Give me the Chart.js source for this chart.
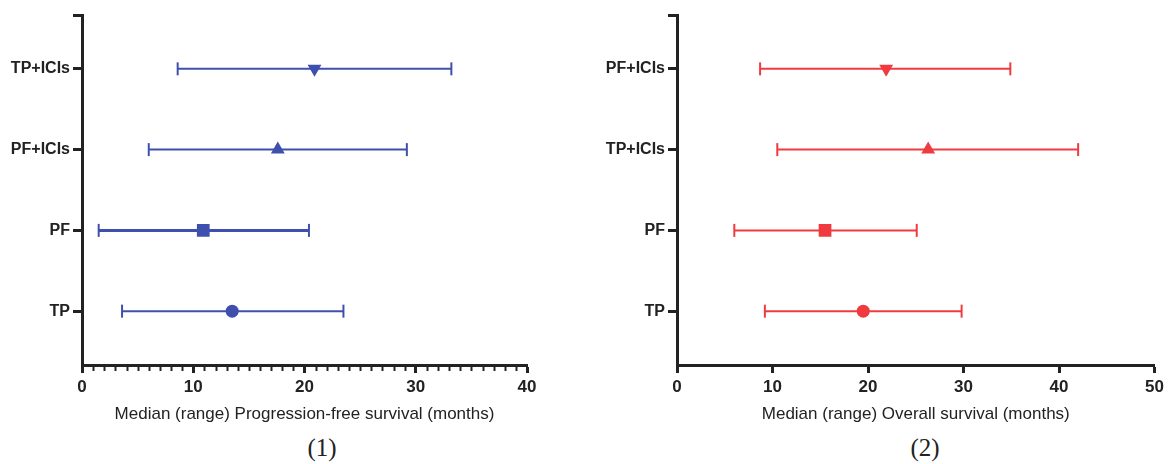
<!DOCTYPE html>
<html>
<head>
<meta charset="utf-8">
<script src="https://cdn.jsdelivr.net/npm/chart.js@4/dist/chart.umd.min.js"></script>
<style>
  body { margin: 0; background: #fff; }
  .wrap { position: relative; width: 1168px; height: 464px; }
  #pfsChart { position: absolute; left: 0; top: 0; }
  #osChart { position: absolute; left: 580px; top: 0; }
  .cap { position: absolute; top: 433px; width: 80px; text-align: center;
         font-family: "Liberation Serif", "Times New Roman", serif; font-size: 25px; line-height: 29px; color: #222; }
</style>
</head>
<body>
<div class="wrap">
  <canvas id="pfsChart" width="560" height="430"></canvas>
  <canvas id="osChart" width="588" height="430"></canvas>
  <div class="cap" style="left:282px">(1)</div>
  <div class="cap" style="left:885px">(2)</div>
</div>
<script>
// rows are listed bottom to top
const pfsLabels = ['TP', 'PF', 'PF+ICIs', 'TP+ICIs'];
const pfsMedian = [13.5, 10.9, 17.6, 20.9];
const pfsLow = [3.6, 1.5, 6.0, 8.6];
const pfsHigh = [23.5, 20.4, 29.2, 33.2];

const osLabels = ['TP', 'PF', 'TP+ICIs', 'PF+ICIs'];
const osMedian = [19.5, 15.5, 26.3, 21.9];
const osLow = [9.2, 6.0, 10.5, 8.7];
const osHigh = [29.8, 25.1, 42.0, 34.9];

const markerStyle = ['circle', 'rect', 'triangle', 'triangle'];
const markerRotation = [0, 0, 0, 180];
const markerRadius = [6.5, 9, 8, 8];

const axisColor = '#222';
const fontFamily = '"Liberation Sans", Arial, sans-serif';

// little ticks between the labelled ones (only on the PFS chart)
const minorTicks = {
    id: 'minorTicks',
    afterDraw(chart, args, opts) {
        if (!opts.step) return;
        const x = chart.scales.x;
        const ctx = chart.ctx;
        const y0 = chart.chartArea.bottom;
        ctx.save();
        ctx.strokeStyle = axisColor;
        ctx.lineWidth = 2;
        for (let v = x.min + opts.step; v < x.max; v += opts.step) {
            if (Math.abs(v % 10) < 1e-6) continue;
            const px = Math.round(x.getPixelForValue(v)) + 0.5;
            ctx.beginPath();
            ctx.moveTo(px, y0);
            ctx.lineTo(px, y0 + 6);
            ctx.stroke();
        }
        ctx.restore();
    }
};

function makeChart(id, labels, median, low, high, color, xMax, xTitle, yWidth, padRight, minorStep, thickRow) {
    const datasets = [{
        data: median.map((m, i) => ({ x: m, y: i + 1 })),
        showLine: false,
        pointStyle: markerStyle,
        pointRotation: markerRotation,
        pointRadius: markerRadius,
        pointBackgroundColor: color,
        pointBorderColor: color,
        pointBorderWidth: 0
    }];
    labels.forEach((lab, i) => {
        datasets.push({
            data: [{ x: low[i], y: i + 1 }, { x: high[i], y: i + 1 }],
            showLine: true,
            borderColor: color,
            borderWidth: i === thickRow ? 3 : 2,
            pointStyle: 'line',
            pointRotation: 90,
            pointRadius: 6.5,
            pointBorderWidth: 2,
            pointBorderColor: color
        });
    });

    return new Chart(document.getElementById(id), {
        type: 'scatter',
        data: { datasets },
        plugins: [minorTicks],
        options: {
            responsive: false,
            animation: false,
            events: [],
            clip: false,
            layout: { padding: { top: 15, right: padRight, left: 0, bottom: 0 } },
            plugins: {
                legend: { display: false },
                tooltip: { enabled: false },
                minorTicks: { step: minorStep }
            },
            scales: {
                x: {
                    type: 'linear',
                    min: 0,
                    max: xMax,
                    afterFit: s => { s.height = 65; },
                    border: { display: true, width: 3, color: axisColor },
                    grid: { drawOnChartArea: false, drawTicks: true, tickLength: 8, tickWidth: 3, tickColor: axisColor },
                    ticks: { stepSize: 10, font: { family: fontFamily, size: 17, weight: 'bold' }, color: axisColor, padding: 4, maxRotation: 0 },
                    title: {
                        display: true,
                        text: xTitle,
                        color: axisColor,
                        font: { family: fontFamily, size: 17 },
                        padding: { top: 6, bottom: 5 }
                    }
                },
                y: {
                    type: 'linear',
                    min: 1 / 3,
                    max: 14 / 3,
                    afterFit: s => { s.width = yWidth; },
                    afterBuildTicks: s => { s.ticks = [1, 2, 3, 4, 14 / 3].map(v => ({ value: v })); },
                    border: { display: true, width: 3, color: axisColor },
                    grid: { drawOnChartArea: false, drawTicks: true, tickLength: 9, tickWidth: 3, tickColor: axisColor },
                    ticks: {
                        font: { family: fontFamily, size: 16, weight: 'bold' },
                        color: axisColor,
                        padding: 3,
                        callback: v => Number.isInteger(v) ? labels[v - 1] : ''
                    }
                }
            }
        }
    });
}

makeChart('pfsChart', pfsLabels, pfsMedian, pfsLow, pfsHigh, '#3f4fae', 40,
    'Median (range) Progression-free survival (months)', 82, 33, 1, 1);
makeChart('osChart', osLabels, osMedian, osLow, osHigh, '#ef3b40', 50,
    'Median (range) Overall survival (months)', 97, 12, 0, -1);
</script>
</body>
</html>
